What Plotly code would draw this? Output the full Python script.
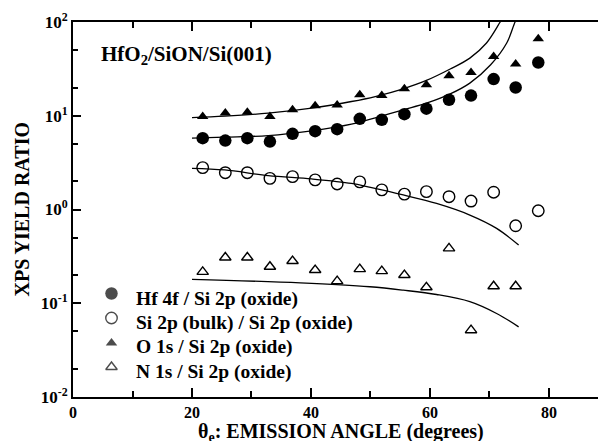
import plotly.graph_objects as go

# ---- data ----
angle = [21.8, 25.6, 29.3, 33.1, 36.9, 40.7, 44.4, 48.2, 51.9, 55.7,
         59.4, 63.2, 66.9, 70.7, 74.4, 78.2]
hf4f = [5.77, 5.43, 5.77, 5.30, 6.41, 6.85, 7.19, 9.27, 9.04, 10.4,
        11.9, 14.8, 16.4, 24.6, 20.0, 37.0]
si_bulk = [2.80, 2.47, 2.47, 2.15, 2.24, 2.07, 1.87, 1.97, 1.62, 1.46,
           1.55, 1.37, 1.23, 1.53, 0.67, 0.97]
o1s = [9.8, 10.7, 10.9, 9.8, 11.6, 12.8, 13.0, 16.7, 16.4, 19.4,
       21.4, 26.7, 29.0, 42.9, 35.6, 66.3]
angle_n = angle[:15]
n1s = [0.216, 0.308, 0.308, 0.245, 0.282, 0.226, 0.172, 0.231, 0.220, 0.200,
       0.148, 0.385, 0.0516, 0.152, 0.152]

# model curves
o_fit_x = [20, 25.5, 32.8, 40.1, 46.8, 50.8, 55.5, 59.4, 63.4, 66.7, 69.5, 71.8, 72.4]
o_fit_y = [9.57, 9.91, 10.66, 12.05, 14.19, 16.04, 19.4, 23.8, 31.5, 41.2, 59.7, 100, 115]
hf_fit_x = [20, 25.5, 32.8, 40.1, 46.8, 50.8, 55.5, 59.4, 63.4, 66.7, 70.2, 72.9, 74.3, 74.8]
hf_fit_y = [5.77, 5.91, 6.14, 6.90, 8.13, 9.5, 11.56, 13.6, 17.1, 22.3, 35.0, 59.7, 100, 115]
si_fit_x = [20, 25.5, 32.8, 40.1, 46.8, 50.0, 55.5, 61.1, 66.7, 71.2, 74.9]
si_fit_y = [2.75, 2.64, 2.30, 2.12, 1.90, 1.72, 1.43, 1.16, 0.873, 0.629, 0.418]
n_fit_x = [20, 38.2, 49.9, 55.5, 61.1, 66.7, 71.2, 74.9]
n_fit_y = [0.180, 0.165, 0.150, 0.138, 0.124, 0.104, 0.0778, 0.056]

series_names = ["Hf 4f / Si 2p (oxide)", "Si 2p (bulk) / Si 2p (oxide)",
                "O 1s / Si 2p (oxide)", "N 1s / Si 2p (oxide)"]
series_symbols = ["circle", "circle-open", "triangle-up", "triangle-up-open"]
series_sizes = [12.5, 11.5, 10, 10]

x_ticks = [0, 20, 40, 60, 80]
y_ticks = [0.01, 0.1, 1, 10, 100]
y_ticktext = ["10<sup>-2</sup>", "10<sup>-1</sup>", "10<sup>0</sup>",
              "10<sup>1</sup>", "10<sup>2</sup>"]

FONT = "Liberation Serif"
PLOT_L, PLOT_W, PLOT_B, PLOT_H = 73, 525, 397, 375


def px_to_paper_x(px):
    return (px - PLOT_L) / PLOT_W


def px_to_paper_y(py):
    return (PLOT_B - py) / PLOT_H


fig = go.Figure()

line_style = dict(color="black", width=1.3, shape="spline")
for fx, fy in [(o_fit_x, o_fit_y), (hf_fit_x, hf_fit_y),
               (si_fit_x, si_fit_y), (n_fit_x, n_fit_y)]:
    fig.add_trace(go.Scatter(x=fx, y=fy, mode="lines", line=line_style,
                             showlegend=False, hoverinfo="skip"))

for xs, ys, name, sym, sz in zip([angle, angle, angle, angle_n],
                                 [hf4f, si_bulk, o1s, n1s],
                                 series_names, series_symbols, series_sizes):
    fig.add_trace(go.Scatter(x=xs, y=ys, mode="markers", name=name, showlegend=False,
                             marker=dict(symbol=sym, size=sz, color="black",
                                         line=dict(width=1.4 if "open" in sym else 0,
                                                   color="black"))))

# ---- hand-placed legend (markers on a hidden overlay axis + text annotations) ----
leg_marker_y = [293.5, 318, 343, 367]
leg_text_y = [298.5, 322.5, 347, 371.5]
fig.add_trace(go.Scatter(
    x=[px_to_paper_x(111.5)] * 4, y=[px_to_paper_y(v) for v in leg_marker_y],
    xaxis="x2", yaxis="y2", mode="markers", showlegend=False, hoverinfo="skip",
    marker=dict(symbol=series_symbols, size=series_sizes, color="black",
                line=dict(width=[0, 1.4, 0, 1.4], color="black"))))
for name, ty in zip(series_names, leg_text_y):
    fig.add_annotation(text=name, xref="paper", yref="paper",
                       x=px_to_paper_x(134), y=px_to_paper_y(ty),
                       xanchor="left", yanchor="middle", showarrow=False,
                       font=dict(family=FONT, size=19.5, weight="bold"))

fig.update_layout(
    width=598, height=441,
    margin=dict(l=73, r=0, t=22, b=44),
    paper_bgcolor="white", plot_bgcolor="white",
    font=dict(family=FONT, size=16, color="black"),
    showlegend=False,
    xaxis=dict(range=[0, 88.24], showline=True, linecolor="black", linewidth=2,
               mirror="ticks", ticks="inside", ticklen=9, tickwidth=1.5, tickcolor="black",
               tickvals=x_ticks, ticktext=[str(v) for v in x_ticks],
               tickfont=dict(family=FONT, size=16, weight="bold"),
               showgrid=False, zeroline=False,
               minor=dict(tickvals=[10, 30, 50, 70], ticks="inside", ticklen=6,
                          tickwidth=1.5, tickcolor="black", showgrid=False)),
    yaxis=dict(type="log", range=[-2, 2], showline=True, linecolor="black", linewidth=2,
               mirror=False, ticks="inside", ticklen=8, tickwidth=1.5, tickcolor="black",
               tickvals=y_ticks, ticktext=y_ticktext,
               tickfont=dict(family=FONT, size=17, weight="bold"),
               showgrid=False, zeroline=False,
               minor=dict(tickvals=[0.02, 0.05, 0.2, 0.5, 2, 5, 20, 50], ticks="inside",
                          ticklen=5, tickwidth=1.5, tickcolor="black", showgrid=False)),
    xaxis2=dict(overlaying="x", anchor="y2", range=[0, 1], visible=False, fixedrange=True),
    yaxis2=dict(overlaying="y", anchor="x2", range=[0, 1], visible=False, fixedrange=True),
)

fig.add_annotation(text="XPS YIELD RATIO", xref="paper", yref="paper",
                   x=px_to_paper_x(21), y=0.5, xanchor="center", yanchor="middle",
                   textangle=-90, showarrow=False,
                   font=dict(family=FONT, size=20, weight="bold"))

fig.add_annotation(text="HfO<sub>2</sub>/SiON/Si(001)", xref="paper", yref="paper",
                   x=px_to_paper_x(99), y=px_to_paper_y(55), xanchor="left",
                   yanchor="middle", showarrow=False,
                   font=dict(family=FONT, size=21, weight="bold"))

fig.add_annotation(text="θ<sub>e</sub>: EMISSION ANGLE (degrees)", xref="x", yref="paper",
                   x=45, y=0, xanchor="center", yanchor="middle", yshift=-35,
                   showarrow=False, font=dict(family=FONT, size=20, weight="bold"))

fig.write_html("out.html")
